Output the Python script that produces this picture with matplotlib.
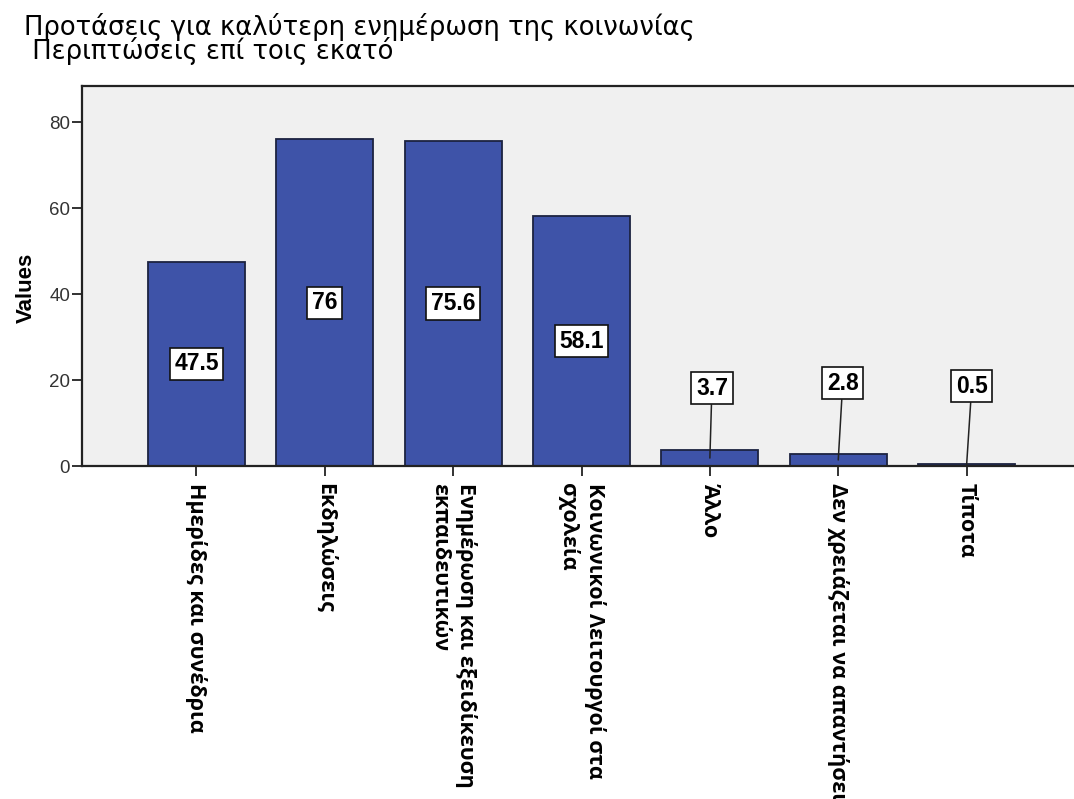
import matplotlib
matplotlib.use("Agg")
import matplotlib.pyplot as plt

# Data
categories = [
    "Ημερίδες και συνέδρια",
    "Εκδηλώσεις",
    "Ενημέρωση και εξειδίκευση\nεκπαιδευτικών",
    "Κοινωνικοί Λειτουργοί στα\nσχολεία",
    "Άλλο",
    "Δεν χρειάζεται να απαντήσει",
    "Τίποτα",
]
values = [47.5, 76.0, 75.6, 58.1, 3.7, 2.8, 0.5]
value_labels = ["47.5", "76", "75.6", "58.1", "3.7", "2.8", "0.5"]
y_ticks = [0, 20, 40, 60, 80]

title_text = "Προτάσεις για καλύτερη ενημέρωση της κοινωνίας\n Περιπτώσεις επί τοις εκατό"
y_label = "Values"

# Styling
W, H = 1074, 799
bg = "#F0F0F0"
bar_color = "#3E53A8"
edge_color = "#1C2340"

fig = plt.figure(figsize=(W / 100, H / 100), dpi=100)
ax = fig.add_axes([82 / W, 1 - 466 / H, 999 / W, 380 / H])
ax.set_facecolor(bg)

x = list(range(len(categories)))
ax.bar(x, values, width=0.755, color=bar_color, edgecolor=edge_color, linewidth=1.3, zorder=2)

ax.set_xlim(-0.891, 6.891)
ax.set_ylim(0, 88.4)

# Axes frame: left, top and bottom only
for side in ["left", "top", "bottom"]:
    ax.spines[side].set_linewidth(1.6)
    ax.spines[side].set_color("#222222")
ax.spines["right"].set_visible(False)

ax.set_yticks(y_ticks)
ax.set_yticklabels([str(t) for t in y_ticks], fontfamily="Liberation Sans", fontsize=13.5, color="#333333")
ax.tick_params(axis="y", length=7, width=1.3, pad=1.5, color="#222222")

ax.set_xticks(x)
ax.set_xticklabels(categories, rotation=270, ha="center", va="top",
                   multialignment="left",
                   fontfamily="Open Sans", fontweight="bold", fontsize=15.5)
for lbl in ax.get_xticklabels():
    lbl.set_linespacing(1.3)
ax.tick_params(axis="x", length=7, width=1.3, pad=5, color="#222222")

ax.set_ylabel(y_label, fontfamily="Liberation Sans", fontweight="bold", fontsize=16)
ax.yaxis.set_label_coords(-0.045, (466 - 288) / 380)

# Value labels: inside large bars, above small bars with a leader line
box = dict(boxstyle="square,pad=0.2", facecolor="white", edgecolor="#111111", linewidth=1.2)
label_offsets = {4: (4.016, 18.1), 5: (5.035, 19.3), 6: (6.04, 18.6)}
for i, (v, lab) in enumerate(zip(values, value_labels)):
    if i in label_offsets:
        ax.annotate(lab, xy=(i, v / 2), xytext=label_offsets[i], textcoords="data",
                    ha="center", va="center", fontfamily="Liberation Sans",
                    fontweight="bold", fontsize=16.5, bbox=box, zorder=4,
                    arrowprops=dict(arrowstyle="-", color="#222222", linewidth=1.1,
                                    shrinkA=0, shrinkB=0))
    else:
        ax.text(i, v / 2, lab, ha="center", va="center", fontfamily="Liberation Sans",
                fontweight="bold", fontsize=16.5, bbox=box, zorder=4)

fig.text(24 / W, 1 - 13 / H, title_text, ha="left", va="top",
         fontfamily="DejaVu Sans", fontsize=18.6, linespacing=0.84)

fig.savefig("out.png", dpi=100, facecolor="white")
